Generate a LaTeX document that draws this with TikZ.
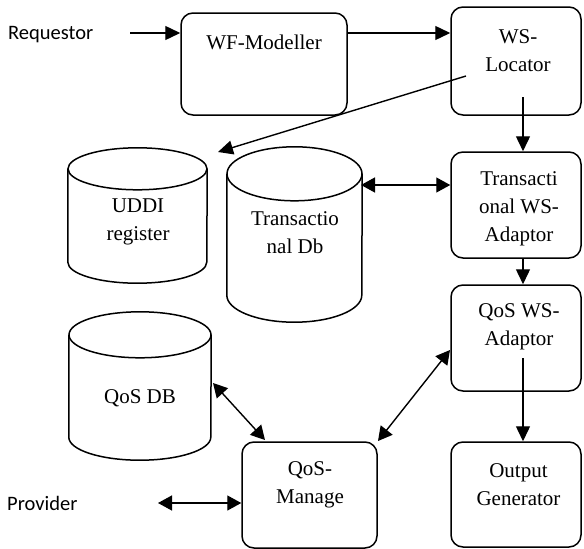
\documentclass[tikz,border=0pt]{standalone}
\usepackage{fontspec}
\setmainfont{Liberation Serif}
\newfontfamily\calibrifont{Carlito}
\usetikzlibrary{arrows.meta,calc}

% rounded process box
\tikzset{
  procbox/.style={draw, line width=1.5pt, rounded corners=12pt, inner sep=0pt},
  boxtext/.style={align=center, inner sep=0pt, font=\fontsize{21}{28}\selectfont},
  sidetext/.style={anchor=west, inner sep=0pt, font=\calibrifont\fontsize{20.5}{24}\selectfont},
  dbbody/.style={inner sep=0pt, draw=none},
  dbline/.style={line width=1.5pt},
  flow/.style={line width=1.4pt, -{Triangle[length=15pt,width=14pt]}},
  biflow/.style={line width=1.4pt, {Triangle[length=14pt,width=15pt]}-{Triangle[length=14pt,width=15pt]}}
}

% database cylinder: name, left, top, right, bottom, cap radius
\newcommand\dbcyl[6]{%
  \node[dbbody, minimum width={(#4-#2)*1pt}, minimum height={(#5-#3)*1pt}]
    (#1) at ({(#2+#4)/2},{(#3+#5)/2}) {};
  \draw[dbline] ($(#1.north)+(0,#6)$) ellipse [x radius={(#4-#2)/2}, y radius=#6];
  \draw[dbline] ($(#1.north west)+(0,#6)$) -- ($(#1.south west)+(0,-#6)$)
    arc[start angle=180, end angle=0, x radius={(#4-#2)/2}, y radius=#6]
    -- ($(#1.north east)+(0,#6)$);
}

\begin{document}
\begin{tikzpicture}[x=1pt, y=-1pt]
\useasboundingbox (0,0) rectangle (584,549);

% process boxes
\node[procbox, minimum width=166pt, minimum height=102pt] (wf)  at (264,64) {};
\node[procbox, minimum width=130pt, minimum height=108pt] (wsl) at (516,61) {};
\node[procbox, minimum width=130pt, minimum height=106pt] (twa) at (516,205) {};
\node[procbox, minimum width=130pt, minimum height=106pt] (qwa) at (516,338) {};
\node[procbox, minimum width=130pt, minimum height=105pt] (og)  at (516,494.5) {};
\node[procbox, minimum width=135pt, minimum height=106pt] (qm)  at (309.5,495) {};

\node[boxtext] (wf-t)  at (264,42)    {WF-Modeller};
\node[boxtext] (wsl-t) at (518,51)    {WS-\\Locator};
\node[boxtext] (twa-t) at (519,208.5) {Transacti\\onal WS-\\Adaptor};
\node[boxtext] (qwa-t) at (519,326.5) {QoS WS-\\Adaptor};
\node[boxtext] (og-t)  at (518.5,485) {Output\\Generator};
\node[boxtext] (qm-t)  at (310,485)   {QoS-\\Manage};

% databases
\dbcyl{uddi}{68}{148}{207}{283}{21}
\dbcyl{tdb}{227}{147}{362}{322}{27}
\dbcyl{qdb}{69}{312}{211}{460}{23}

\node[boxtext] (uddi-t) at (138,222)   {UDDI\\register};
\node[boxtext] (tdb-t)  at (295,232.5) {Transactio\\nal Db};
\node[boxtext] (qdb-t)  at (140,398)   {QoS DB};

% external actors
\node[sidetext] (req)  at (8,35)  {Requestor};
\node[sidetext] (prov) at (7,503) {Provider};

% connector end points
\coordinate (reqout)  at (130,33);
\coordinate (wsl-d)   at (466,76);
\coordinate (uddi-in) at (218,152);
\coordinate (wsl-s)   at (523,97);
\coordinate (tdb-r)   at (361,185);
\coordinate (qwa-s)   at (523,358);
\coordinate (provout) at (158,503);
\coordinate (qm-ne)   at (378,441);
\coordinate (qwa-w)   at (450,350);
\coordinate (qdb-e)   at (213,383);
\coordinate (qm-nw)   at (265,440);

% connectors
\draw[flow] (reqout) -- (reqout -| wf.west);
\draw[flow] (wf.east |- reqout) -- (wsl.west |- reqout);
\draw[flow] (wsl-d) -- (uddi-in);
\draw[flow] (wsl-s) -- (wsl-s |- twa.north);
\draw[biflow] (tdb-r) -- (tdb-r -| twa.west);
\draw[flow] (twa.south -| wsl-s) -- (qwa.north -| wsl-s);
\draw[flow] (qwa-s) -- (qwa-s |- og.north);
\draw[biflow] (qm-ne) -- (qwa-w);
\draw[biflow] (qdb-e) -- (qm-nw);
\draw[biflow] (provout) -- (provout -| qm.west);
\end{tikzpicture}
\end{document}
